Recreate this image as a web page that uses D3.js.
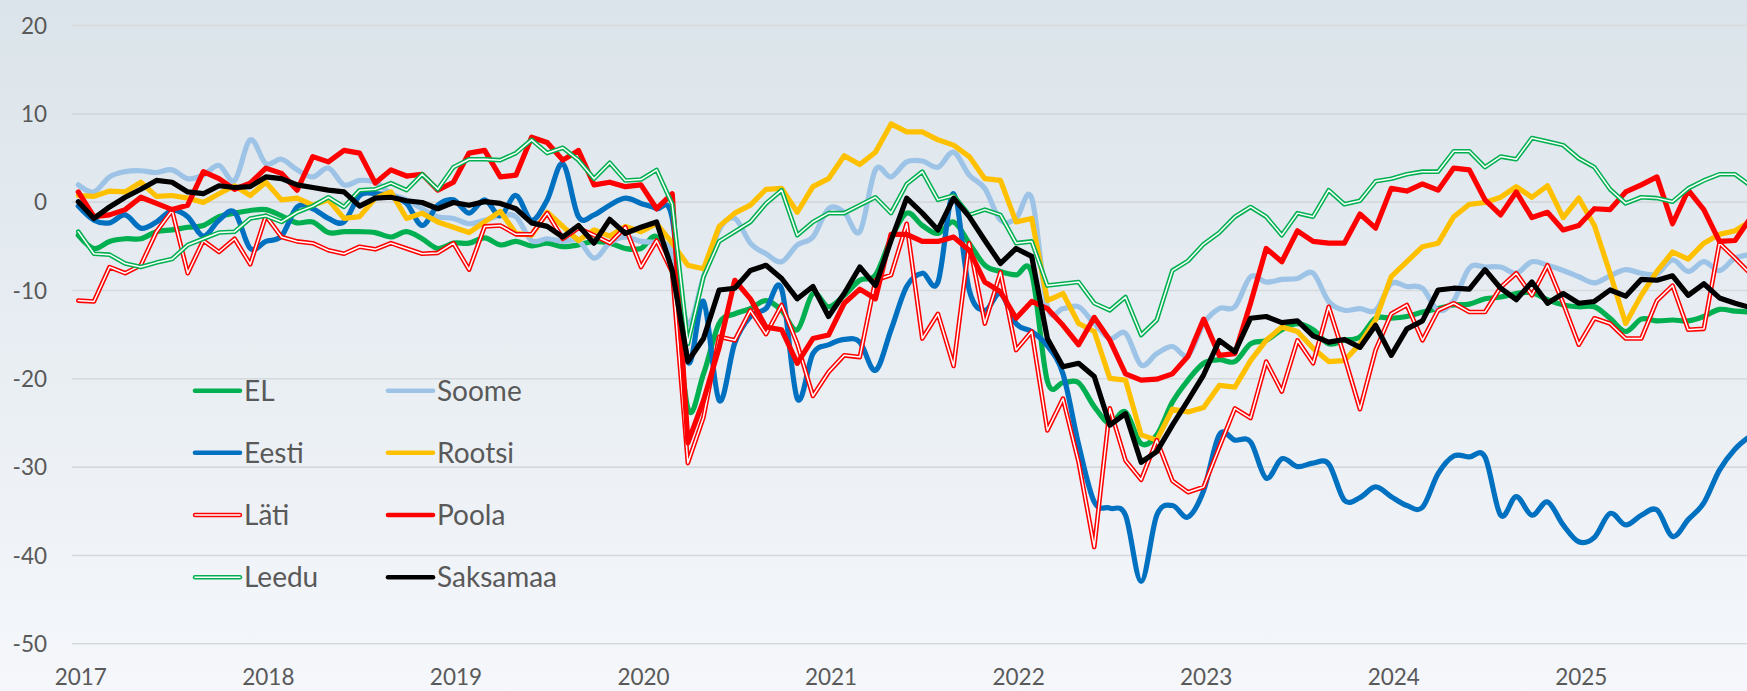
<!DOCTYPE html>
<html>
<head>
<meta charset="utf-8">
<script src="https://cdn.jsdelivr.net/npm/d3@7"></script>
<style>
    html, body { margin: 0; padding: 0; overflow: hidden; background: #eef1f6; }
    #chart { width: 1747px; height: 691px; }
    .lbl { font-family: Lato, "Open Sans", sans-serif; fill: #595959; }
</style>
</head>
<body>
<div id="chart"></div>
<script>
"use strict"

//---------------------------DATA-------------------------------//
// one value per month, Jan 2017 .. Dec 2025
const months = d3.timeMonth.range(new Date(2017, 0, 1), new Date(2026, 0, 1));
const yTicks = [20, 10, 0, -10, -20, -30, -40, -50];

const EL = [-3.8, -5.3, -4.5, -4.2, -4.2, -3.4, -3.2, -2.9, -2.7, -1.7, -1.3, -1.0,
    -0.9, -1.6, -2.4, -2.3, -3.5, -3.4, -3.4, -3.5, -4.0, -3.4, -4.2, -5.3,
    -4.7, -4.7, -4.1, -4.9, -4.5, -5.0, -4.7, -5.1, -4.9, -4.5, -4.7, -5.3,
    -5.3, -4.0, -8.0, -23.4, -19.5, -13.8, -12.7, -12.1, -11.2, -12.3, -14.5, -10.4,
    -11.9, -10.6, -8.9, -8.3, -4.2, -1.3, -2.7, -3.6, -2.3, -4.7, -7.2, -7.9,
    -8.3, -8.1, -20.3, -20.5, -20.5, -23.2, -25.1, -23.8, -27.4, -26.4, -22.7, -20.2,
    -18.3, -17.9, -18.1, -16.1, -15.7, -14.5, -13.8, -14.5, -16.1, -15.7, -15.3, -13.2,
    -13.2, -13.0, -12.5, -12.1, -11.7, -11.6, -11.0, -10.8, -10.4, -10.3, -11.1, -11.7,
    -11.9, -11.9, -13.2, -14.7, -13.3, -13.5, -13.4, -13.5, -13.0, -12.2, -12.4, -12.5];

const Soome = [1.9, 1.1, 2.8, 3.4, 3.5, 3.3, 3.6, 2.6, 3.0, 4.1, 2.4, 7.0,
    4.3, 4.8, 3.6, 2.8, 3.8, 1.9, 2.4, 2.2, 0.9, 0.2, -0.8, -1.7,
    -1.9, -2.5, -2.1, -1.6, -1.7, -4.4, -4.2, -4.5, -4.4, -6.4, -4.7, -4.0,
    -4.5, -4.7, -5.8, -13.8, -8.5, -3.2, -1.9, -4.7, -5.9, -6.8, -4.9, -4.0,
    -0.8, -1.2, -3.4, 3.6, 2.8, 4.5, 4.6, 3.9, 5.6, 3.0, 1.5, -2.1,
    -1.9, 0.4, -11.9, -12.1, -11.9, -13.8, -15.5, -14.9, -18.5, -17.2, -16.4, -17.4,
    -13.8, -12.1, -11.9, -8.5, -9.1, -8.8, -8.7, -8.1, -11.3, -12.3, -12.1, -12.3,
    -9.3, -9.6, -9.8, -12.3, -11.2, -7.5, -7.4, -7.4, -8.1, -6.8, -7.2, -7.8,
    -8.5, -9.2, -8.4, -7.7, -8.1, -8.2, -6.6, -7.9, -6.8, -7.8, -6.4, -6.0];

const Eesti = [-0.5, -2.1, -2.4, -1.5, -3.0, -2.3, -1.0, -1.7, -3.9, -2.1, -1.2, -5.3,
    -4.5, -3.9, -0.6, -0.8, -1.9, -2.3, 0.7, 0.9, 0.6, -0.2, -2.7, -0.4,
    0.2, -1.3, 0.2, -1.6, 0.7, -2.1, 0.2, 4.3, -1.7, -1.5, -0.4, 0.4,
    -0.2, -0.8, -1.9, -18.1, -11.3, -22.5, -16.0, -13.0, -12.1, -9.9, -22.3, -17.2,
    -16.2, -15.6, -15.9, -19.1, -14.5, -9.6, -8.1, -9.1, 0.9, -10.0, -12.3, -10.4,
    -13.8, -14.7, -16.3, -19.5, -27.5, -34.0, -34.7, -35.5, -43.0, -35.5, -34.4, -35.7,
    -32.7, -26.4, -27.0, -27.2, -31.3, -29.1, -30.0, -29.6, -29.7, -33.8, -33.5, -32.3,
    -33.4, -34.4, -34.6, -30.8, -28.8, -28.9, -28.9, -35.5, -33.4, -35.5, -34.0, -36.6,
    -38.5, -38.0, -35.3, -36.6, -35.5, -34.9, -37.9, -36.0, -34.1, -30.4, -28.0, -26.5];

const Rootsi = [0.7, 0.6, 1.2, 1.1, 2.2, 0.6, 0.7, 0.4, -0.1, 0.9, 1.8, 0.7,
    2.2, 0.2, 0.4, -0.4, 0.2, -1.9, -1.7, 0.4, 1.1, -1.9, -1.3, -2.3,
    -2.9, -3.5, -2.3, -1.1, -3.6, -3.8, -1.2, -2.8, -4.4, -3.2, -3.9, -2.8,
    -3.4, -2.5, -4.7, -7.2, -7.6, -2.8, -1.3, -0.4, 1.4, 1.5, -1.2, 1.7,
    2.6, 5.2, 4.2, 5.6, 8.8, 7.9, 7.9, 7.0, 6.4, 5.1, 2.6, 2.4,
    -2.3, -1.9, -11.2, -10.4, -13.8, -14.7, -20.0, -20.2, -26.4, -27.0, -23.5, -23.8,
    -23.3, -20.8, -21.0, -18.0, -15.7, -14.2, -14.7, -16.6, -18.1, -18.0, -16.1, -13.4,
    -8.5, -6.8, -5.1, -4.7, -1.7, -0.3, -0.1, 0.5, 1.7, 0.5, 1.8, -1.8,
    0.4, -2.7, -8.1, -13.8, -10.6, -7.9, -5.7, -6.5, -4.7, -3.7, -3.3, -2.2];

const Lati = [-11.2, -11.3, -7.4, -8.1, -7.2, -3.4, -1.0, -8.1, -4.4, -5.7, -4.2, -7.1,
    -1.6, -4.0, -4.5, -4.7, -5.5, -5.9, -5.1, -5.4, -4.7, -5.3, -5.9, -5.8,
    -4.7, -7.7, -2.8, -2.7, -3.7, -3.7, -1.3, -4.2, -3.0, -3.8, -4.7, -2.9,
    -7.4, -4.4, -8.0, -29.6, -24.4, -15.3, -15.7, -12.3, -15.0, -11.7, -16.1, -22.0,
    -19.3, -17.4, -17.6, -8.9, -8.3, -2.5, -15.5, -12.7, -18.6, -4.7, -13.8, -8.0,
    -16.8, -14.7, -25.9, -22.3, -29.5, -39.1, -23.4, -29.3, -31.5, -27.0, -31.6, -32.9,
    -32.3, -27.8, -23.4, -24.5, -18.1, -21.5, -15.7, -18.3, -11.9, -17.5, -23.5, -16.8,
    -12.7, -11.7, -15.7, -12.3, -11.5, -12.5, -12.5, -9.7, -8.1, -10.6, -7.2, -11.5,
    -16.2, -13.2, -13.8, -15.5, -15.5, -11.2, -9.5, -14.5, -14.4, -4.7, -6.4, -8.2];

const Poola = [1.1, -1.7, -1.5, -0.9, 0.5, -0.2, -0.9, -0.4, 3.4, 2.6, 1.4, 2.1,
    3.8, 3.2, 1.3, 5.1, 4.5, 5.8, 5.5, 2.1, 3.6, 2.9, 3.1, 1.3,
    2.2, 5.5, 5.8, 2.8, 3.0, 7.3, 6.7, 4.7, 5.8, 1.9, 2.2, 1.7,
    1.9, -0.8, 0.9, -27.3, -22.5, -16.5, -8.9, -11.0, -14.2, -14.5, -18.3, -15.5,
    -15.1, -11.5, -9.9, -11.0, -3.7, -3.7, -4.5, -4.5, -4.0, -5.5, -9.1, -10.2,
    -13.2, -11.3, -12.1, -14.0, -16.2, -13.1, -15.7, -19.5, -20.2, -20.1, -19.5, -17.5,
    -13.3, -17.4, -17.2, -11.5, -5.3, -6.8, -3.3, -4.5, -4.7, -4.7, -1.4, -3.0,
    1.5, 1.2, 2.0, 1.3, 3.8, 3.6, 0.2, -1.5, 1.1, -1.8, -1.2, -3.2,
    -2.7, -0.8, -0.9, 1.1, 1.9, 2.8, -2.5, 1.3, -0.9, -4.5, -4.4, -1.8];

const Leedu = [-3.4, -5.9, -6.0, -7.0, -7.4, -6.9, -6.5, -4.9, -4.2, -3.5, -3.4, -1.9,
    -1.6, -2.3, -1.2, -0.5, 0.5, -0.6, 1.3, 1.4, 2.1, 1.3, 3.1, 1.4,
    3.9, 4.8, 4.8, 4.7, 5.5, 7.0, 5.5, 6.1, 4.7, 2.6, 4.4, 2.4,
    2.5, 3.6, -0.3, -16.1, -8.5, -4.5, -3.4, -2.3, -0.2, 1.3, -3.8, -2.3,
    -1.3, -1.3, -0.4, 0.5, -1.3, 2.0, 3.4, 0.2, 0.7, -1.5, -0.9, -1.5,
    -4.7, -4.5, -9.5, -9.3, -9.1, -11.5, -12.3, -10.8, -15.1, -13.4, -7.8, -6.7,
    -4.8, -3.5, -1.7, -0.6, -1.7, -3.8, -1.3, -1.7, 1.3, -0.3, 0.1, 2.3,
    2.6, 3.1, 3.4, 3.4, 5.7, 5.7, 3.9, 5.1, 4.8, 7.2, 6.8, 6.4,
    4.9, 3.9, 1.4, -0.2, 0.5, 0.4, 0.0, 1.5, 2.4, 3.1, 3.1, 1.8];

const Saksamaa = [0.0, -1.9, -0.6, 0.5, 1.4, 2.4, 2.2, 1.1, 0.9, 1.8, 1.6, 1.7,
    2.8, 2.6, 1.9, 1.6, 1.3, 1.1, -0.5, 0.4, 0.5, 0.1, -0.1, -0.8,
    -0.1, -0.4, 0.0, -0.2, -0.8, -2.4, -2.8, -4.0, -2.7, -4.7, -2.0, -3.6,
    -2.9, -2.3, -7.8, -18.1, -15.5, -10.0, -9.8, -7.8, -7.2, -8.7, -11.0, -9.6,
    -13.0, -10.4, -7.4, -9.5, -4.4, 0.4, -1.3, -3.2, 0.4, -1.7, -4.4, -7.0,
    -5.3, -6.2, -15.5, -18.7, -18.3, -19.8, -25.3, -24.0, -29.5, -28.3, -25.3, -22.5,
    -19.6, -15.7, -17.0, -13.2, -13.0, -13.7, -13.5, -15.2, -15.9, -15.6, -16.5, -14.0,
    -17.4, -14.4, -13.5, -10.0, -9.8, -9.9, -7.7, -9.8, -11.1, -9.1, -11.5, -10.4,
    -11.5, -11.3, -10.0, -10.7, -8.8, -8.9, -8.4, -10.6, -9.3, -10.9, -11.5, -12.0];

// draw order = legend order (row by row)
const series = [
    { name: "EL", values: EL, color: "#00b050", smooth: true },
    { name: "Soome", values: Soome, color: "#9dc3e6", smooth: true },
    { name: "Eesti", values: Eesti, color: "#0070c0", smooth: true },
    { name: "Rootsi", values: Rootsi, color: "#ffc000" },
    { name: "Läti", values: Lati, color: "#ff0000", double: true },
    { name: "Poola", values: Poola, color: "#ff0000" },
    { name: "Leedu", values: Leedu, color: "#00b050", double: true },
    { name: "Saksamaa", values: Saksamaa, color: "#000000" }
];

//------------------------1. PREPARATION------------------------//
const width = 1747;
const height = 691;
const plotLeft = 72;
const firstX = 78.3;     // Jan 2017
const monthStep = 15.63;

const svg = d3.select("#chart").append("svg")
    .attr("width", width)
    .attr("height", height);

const defs = svg.append("defs");
const grad = defs.append("linearGradient")
    .attr("id", "bg")
    .attr("x1", 0).attr("y1", 0)
    .attr("x2", 0).attr("y2", 1);
grad.append("stop").attr("offset", "0%").attr("stop-color", "#dbe4ea");
grad.append("stop").attr("offset", "100%").attr("stop-color", "#f5f7fb");

svg.append("rect")
    .attr("width", width)
    .attr("height", height)
    .attr("fill", "url(#bg)");

//----------------------------SCALES----------------------------//
const xScale = d3.scalePoint()
    .domain(d3.range(months.length))
    .range([firstX, firstX + monthStep * (months.length - 1)]);

const yScale = d3.scaleLinear()
    .domain([-50, 20])
    .range([643.3, 25]);

//-----------------------------AXES-----------------------------//
const yaxis = d3.axisLeft(yScale)
    .tickValues(yTicks)
    .tickSize(-(width - plotLeft))
    .tickPadding(25)
    .tickFormat(d => String(d)); // plain hyphen, not unicode minus

const yaxisEl = svg.append("g")
    .attr("class", "axis yaxis")
    .attr("transform", `translate(${plotLeft},0)`)
    .call(yaxis);

yaxisEl.select(".domain").remove();
yaxisEl.selectAll(".tick line")
    .attr("stroke", "#d6d9dc")
    .attr("stroke-width", 1.6);
yaxisEl.selectAll(".tick text")
    .attr("class", "lbl")
    .attr("x", -25)
    .attr("dy", "0.36em")
    .style("font-size", "22.5px")
    .style("text-anchor", "end");

// year labels under each January
const yearIdx = months.map((m, i) => i).filter(i => months[i].getMonth() === 0);
const xaxis = d3.axisBottom(xScale)
    .tickValues(yearIdx)
    .tickSize(0)
    .tickFormat(i => d3.timeFormat("%Y")(months[i]));

const xaxisEl = svg.append("g")
    .attr("class", "axis xaxis")
    .attr("transform", "translate(2,0)")
    .call(xaxis);

xaxisEl.select(".domain").remove();
xaxisEl.selectAll(".tick text")
    .attr("class", "lbl")
    .attr("y", 685)
    .attr("dy", 0)
    .style("font-size", "22.5px");

//-------------------------2. DRAWING---------------------------//
const lineGen = (s) => d3.line()
    .x((d, i) => xScale(i))
    .y(d => yScale(d))
    .curve(s.smooth ? d3.curveCardinal.tension(0) : d3.curveLinear);

const linesEl = svg.append("g").attr("class", "lines");

series.forEach(s => {
    const path = lineGen(s)(s.values);
    linesEl.append("path")
        .attr("d", path)
        .attr("fill", "none")
        .attr("stroke", s.color)
        .attr("stroke-width", s.double ? 4.6 : 5.2)
        .attr("stroke-linejoin", "round")
        .attr("stroke-linecap", "round");
    if (s.double) {
        // compound line: white core
        linesEl.append("path")
            .attr("d", path)
            .attr("fill", "none")
            .attr("stroke", "#ffffff")
            .attr("stroke-width", 1.5)
            .attr("stroke-linejoin", "round")
            .attr("stroke-linecap", "round");
    }
});

//----------------------------LEGEND----------------------------//
const legendCols = [195, 388];
const legendRows = [390.7, 452.7, 515, 577.3];
const swatchLen = 45;

const legendEl = svg.append("g").attr("class", "legend");
series.forEach((s, k) => {
    const lx = legendCols[k % 2];
    const ly = legendRows[Math.floor(k / 2)];
    const item = legendEl.append("g");
    item.append("line")
        .attr("x1", lx).attr("x2", lx + swatchLen)
        .attr("y1", ly).attr("y2", ly)
        .attr("stroke", s.color)
        .attr("stroke-width", s.double ? 4.4 : 4.6)
        .attr("stroke-linecap", "round");
    if (s.double) {
        item.append("line")
            .attr("x1", lx).attr("x2", lx + swatchLen)
            .attr("y1", ly).attr("y2", ly)
            .attr("stroke", "#ffffff")
            .attr("stroke-width", 1.5)
            .attr("stroke-linecap", "round");
    }
    item.append("text")
        .attr("class", "lbl")
        .attr("x", lx + swatchLen + 4)
        .attr("y", ly)
        .attr("dy", "0.36em")
        .style("font-size", "28px")
        .text(s.name);
});
</script>
</body>
</html>
